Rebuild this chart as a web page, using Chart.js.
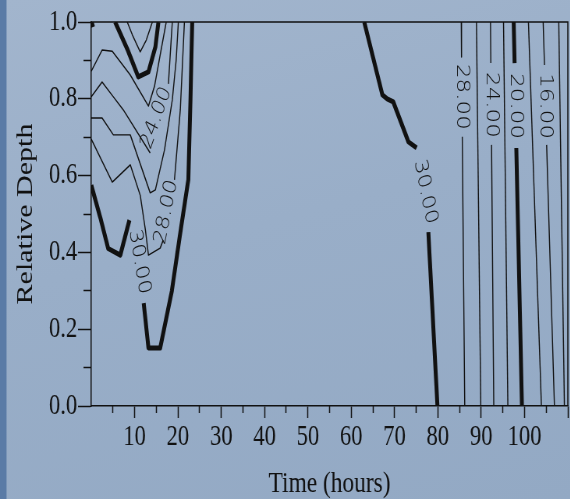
<!DOCTYPE html>
<html>
<head>
<meta charset="utf-8">
<script src="https://cdn.jsdelivr.net/npm/chart.js@4.4.1/dist/chart.umd.min.js"></script>
<style>
  html, body { margin: 0; padding: 0; width: 570px; height: 499px; overflow: hidden; }
  body {
    background:
      linear-gradient(to right, #5a7ba6 0, #5a7ba6 6px, rgba(90,123,166,0) 7px),
      linear-gradient(165deg, #a2b5cd 0%, #99aec8 45%, #93a9c4 100%);
  }
  /* the plot is drawn wide and squeezed, like the narrow serif text of the original figure */
  #wrap { position: absolute; left: 0; top: 0; width: 731px; height: 499px;
          transform: scaleX(0.78); transform-origin: 0 0; }
</style>
</head>
<body>
<div id="wrap"><canvas id="depthChart" width="731" height="499"></canvas></div>
<script>
// salinity contours: [time (hours), relative depth]; a null depth breaks the line under a label
const c18Top    = [[8.3,1.0],[9.5,0.966],[11.3,0.922],[12.7,0.953],[14.1,1.0]];
const c20Top    = [[5.5,1.0],[8.3,0.93],[10.85,0.857],[13.2,0.87],[14.8,0.935],[15.5,1.0]];
const c20Corner = [[0.1,1.0],[0.4,0.987]];
const c22Left   = [[0,0.872],[2.5,0.927],[4.85,0.924],[9.0,0.862],[13.2,0.781],[14.6,0.833],[15.9,0.914],[17.3,1.0]];
const c24Left   = [[0,0.805],[2.5,0.844],[5.1,0.805],[7.4,0.771],[13.6,0.659],[13.6,null],[17.8,0.839],[18.7,1.0]];
const c26Left   = [[0,0.75],[2.5,0.75],[5.1,0.706],[9.0,0.706],[13.6,0.555],[14.8,0.563],[16.9,0.667],[18.7,0.797],[19.6,0.901],[20.1,1.0]];
const c28Left   = [[0,0.695],[4.85,0.583],[9.0,0.628],[11.3,0.549],[12.5,0.458],[13.2,0.393],[15.9,0.411],[16.6,0.432],[16.6,null],[19.2,0.589],[20.55,0.771],[21.5,1.0]];
const c30Left   = [[0,0.575],[2.1,0.49],[3.9,0.41],[6.7,0.393],[8.8,0.484]];
const c30Mid    = [[12.1,0.268],[13.2,0.151],[15.9,0.151],[18.6,0.30],[20.55,0.451],[22.4,0.589],[22.9,0.8],[23.3,1.0]];
const c30Right  = [[63.0,1.0],[67.2,0.81],[68.3,0.8],[69.7,0.792],[73.2,0.688],[75.1,0.672],[75.1,null],[77.8,0.453],[79.9,0]];
const c28Right  = [[85.4,1.0],[85.46,0.909],[85.46,null],[85.63,0.701],[86.2,0]];
const c26Right  = [[88.9,1.0],[89.9,0]];
const c24Right  = [[92.15,1.0],[92.23,0.893],[92.23,null],[92.39,0.68],[92.9,0]];
const c22Right  = [[95.15,1.0],[96.15,0]];
const c20Right  = [[97.5,1.0],[97.7,0.893],[97.7,null],[98.1,0.672],[99.4,0]];
const c18Right  = [[100.9,1.0],[103.9,0]];
const c16Right  = [[104.3,1.0],[104.6,0.888],[104.6,null],[105.1,0.68],[106.9,0]];
const c14Right  = [[107.9,1.0],[109.2,0]];

const thinLines  = [c18Top, c22Left, c24Left, c26Left, c28Left, c28Right, c26Right, c24Right, c22Right, c18Right, c16Right, c14Right];
const thickLines = [c20Top, c20Corner, c30Left, c30Mid, c30Right, c20Right];

// contour labels: level, position (time, depth), rotation in degrees
const contourLabels = [
  { level: 24, t: 15.0,  d: 0.75,  rot: -66 },
  { level: 28, t: 17.3,  d: 0.505, rot: -76 },
  { level: 30, t: 11.1,  d: 0.375, rot: 78 },
  { level: 30, t: 77.1,  d: 0.557, rot: 76 },
  { level: 28, t: 85.5,  d: 0.805, rot: 90 },
  { level: 24, t: 92.3,  d: 0.784, rot: 90 },
  { level: 20, t: 98.0,  d: 0.781, rot: 90 },
  { level: 16, t: 104.8, d: 0.781, rot: 90 }
];

const timeMajor  = [10,20,30,40,50,60,70,80,90,100,110];
const timeMinor  = [5,15,25,35,45,55,65,75,85,95,105];
const depthMajor = [0,0.2,0.4,0.6,0.8,1.0];
const depthMinor = [0.1,0.3,0.5,0.7,0.9];

const ink = '#111';
const serif = '"Liberation Serif", "Times New Roman", serif';

function toDataset(points, width) {
  return {
    data: points.map(p => ({ x: p[0], y: p[1] })),
    borderColor: ink,
    borderWidth: width,
    pointRadius: 0,
    tension: 0,
    spanGaps: false,
    borderJoinStyle: 'round',
    borderCapStyle: 'butt'
  };
}

const datasets = thinLines.map(l => toDataset(l, 1.4))
  .concat(thickLines.map(l => toDataset(l, 5)));

const frame = {
  id: 'frame',
  afterDatasetsDraw(chart) {
    const { ctx, chartArea: a } = chart;
    ctx.save();
    ctx.strokeStyle = ink;
    ctx.lineWidth = 1.5;
    ctx.beginPath();
    ctx.moveTo(a.left, a.top);
    ctx.lineTo(a.right, a.top);
    ctx.lineTo(a.right, a.bottom);
    ctx.stroke();
    ctx.restore();
  }
};

const levelText = {
  id: 'levelText',
  afterDatasetsDraw(chart) {
    const { ctx, scales } = chart;
    ctx.save();
    ctx.fillStyle = ink;
    ctx.font = '200 23px "DejaVu Sans", sans-serif';
    ctx.textAlign = 'center';
    ctx.textBaseline = 'middle';
    contourLabels.forEach(l => {
      ctx.save();
      ctx.translate(scales.x.getPixelForValue(l.t), scales.y.getPixelForValue(l.d));
      ctx.rotate(l.rot * Math.PI / 180);
      ctx.fillText(l.level.toFixed(2), 0, 0);
      ctx.restore();
    });
    ctx.restore();
  }
};

const setTicks = values => scale => { scale.ticks = values.map(v => ({ value: v })); };

new Chart(document.getElementById('depthChart'), {
  type: 'line',
  data: { datasets: datasets },
  options: {
    responsive: false,
    animation: false,
    layout: { padding: { top: 22, right: 3, left: 0, bottom: 0 } },
    plugins: { legend: { display: false }, tooltip: { enabled: false } },
    scales: {
      x: {
        type: 'linear', min: 0, max: 110, position: 'bottom', weight: 1,
        afterBuildTicks: setTicks(timeMajor),
        afterFit: s => { s.height = 93; },
        grid: { drawOnChartArea: false, tickLength: 12, tickWidth: 1.5, tickColor: ink },
        border: { color: ink, width: 1.5 },
        ticks: {
          color: ink, padding: 2, maxRotation: 0, autoSkip: false,
          font: { family: serif, size: 29 },
          callback: v => (v <= 100 ? String(v) : '')
        },
        title: { display: true, text: 'Time (hours)', color: ink, padding: 0,
                 font: { family: serif, size: 30, lineHeight: 1 } }
      },
      xMinor: {
        type: 'linear', min: 0, max: 110, position: 'bottom', weight: 0,
        afterBuildTicks: setTicks(timeMinor),
        afterFit: s => { s.height = 0; },
        grid: { drawOnChartArea: false, tickLength: 7, tickWidth: 1.5, tickColor: ink },
        border: { display: false },
        ticks: { display: false }
      },
      y: {
        type: 'linear', min: 0, max: 1, position: 'left', weight: 1,
        afterBuildTicks: setTicks(depthMajor),
        afterFit: s => { s.width = 117; },
        grid: { drawOnChartArea: false, tickLength: 17, tickWidth: 1.5, tickColor: ink },
        border: { color: ink, width: 1.5 },
        ticks: {
          color: ink, padding: 1,
          font: { family: serif, size: 29 },
          callback: v => Number(v).toFixed(1)
        },
        title: { display: true, text: 'Relative Depth', color: ink, padding: { top: 18, bottom: 0 },
                 font: { family: serif, size: 30, lineHeight: 1 } }
      },
      yMinor: {
        type: 'linear', min: 0, max: 1, position: 'left', weight: 0,
        afterBuildTicks: setTicks(depthMinor),
        afterFit: s => { s.width = 0; },
        grid: { drawOnChartArea: false, tickLength: 10, tickWidth: 1.5, tickColor: ink },
        border: { display: false },
        ticks: { display: false }
      }
    }
  },
  plugins: [frame, levelText]
});
</script>
</body>
</html>
